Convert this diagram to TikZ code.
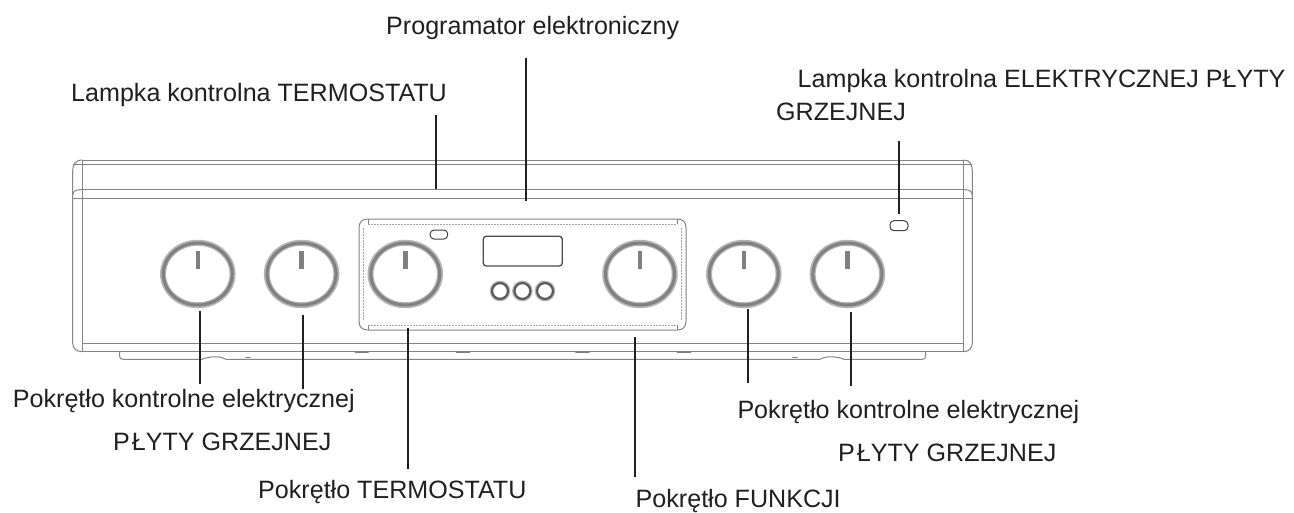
\documentclass[tikz,border=0pt]{standalone}
\usepackage{fontspec}
\setmainfont{Liberation Sans}
\usetikzlibrary{shapes.geometric}
\definecolor{ink}{HTML}{231F20}
\definecolor{edge}{HTML}{858585}
\definecolor{ringout}{HTML}{B4B4B4}
\definecolor{ringin}{HTML}{808080}
\tikzset{
  label text/.style={anchor=base west,inner sep=0pt,text=ink,font=\fontsize{25.1}{29}\selectfont},
  leader/.style={draw=ink,line width=2pt},
  body/.style={draw=edge,line width=1pt},
  fine/.style={draw=edge!75,line width=.7pt,dash pattern=on 2pt off 1pt},
  blob/.style={draw=ringin,line width=1.6pt,line cap=round},
  lamp/.style={draw=black!75,line width=1pt,rounded corners=4pt,fill=white},
  knob/.style={ellipse,minimum width=69.5pt,minimum height=62.5pt,inner sep=0pt,draw=ringout,line width=6pt},
  knobcore/.style={draw=ringin,line width=3pt},
  tick/.style={draw=ringin,line width=4.4pt},
  btn/.style={circle,minimum size=17pt,inner sep=0pt,draw=ringout,line width=3.6pt},
  btncore/.style={draw=black!65,line width=2pt}
}
\begin{document}
\begin{tikzpicture}[x=1pt,y=-1pt]
\useasboundingbox[fill=white] (0,0) rectangle (1294,512);
% body
\draw[body] (82.7,160) -- (963.3,160) (72.7,164) -- (972.3,164)
  (82.7,189.5) -- (963.3,189.5) (72.7,198) -- (972.3,198)
  (82.7,343.3) -- (963.3,343.3) (82.7,351.7) -- (963.3,351.7);
\draw[body] (82.7,160) .. controls (75,160) and (72.7,164) .. (72.7,172) -- (72.7,343) .. controls (72.7,348) and (76,351.7) .. (82.7,351.7);
\draw[body] (963.3,160) .. controls (970,160) and (972.3,164) .. (972.3,172) -- (972.3,343) .. controls (972.3,348) and (969,351.7) .. (963.3,351.7);
\draw[body] (82.7,160) -- (82.7,351.7) (963.3,160) -- (963.3,351.7);
\draw[body] (82.7,189.5) .. controls (76,189.5) and (73,191) .. (72.7,195);
\draw[body] (963.3,189.5) .. controls (969,189.5) and (972,191) .. (972.3,195);
% lower strip
\draw[body] (119.5,351.7) -- (119.5,356) .. controls (119.5,358.5) and (121,359.3) .. (123,359.3) -- (202,359.3)
  .. controls (208,356.5) and (220,355.5) .. (226,359.3) -- (820,359.3)
  .. controls (826,355.5) and (838,356.5) .. (844,359.3) -- (922,359.3)
  .. controls (924.5,359.3) and (925.5,358.5) .. (925.5,356) -- (925.5,351.7);
\draw[blob] (355.5,352.6) -- (368,352.6);
\draw[blob] (456.5,352.6) -- (469.5,352.6);
\draw[blob] (576,352.6) -- (589,352.6);
\draw[blob] (677.5,352.6) -- (690.5,352.6);
\draw[blob] (246,357.6) -- (250,357.6);
\draw[blob] (793,357.6) -- (797,357.6);
% panel
\draw[body] (368,219) -- (677,219) .. controls (683,219) and (686,222) .. (686,228) -- (686,321)
  .. controls (686,327) and (683,330) .. (677,330) -- (368,330)
  .. controls (362,330) and (359,327) .. (359,321) -- (359,228) .. controls (359,222) and (362,219) .. (368,219);
\draw[body] (368,219) -- (368,224) (677,219) -- (677,224) (368,325) -- (368,330) (677,325) -- (677,330);
\draw[fine] (368,224) -- (677,224) (368,325) -- (677,325) (363.5,228) -- (363.5,321) (681.7,228) -- (681.7,321);
% display, lamps
\draw[lamp,draw=black!70,line width=1.3pt,rounded corners=3pt] (483.3,236.3) rectangle (562.3,266);
\draw[lamp] (430,230) rectangle (447.7,239);
\draw[lamp] (890,220.7) rectangle (908,230.7);
% knobs
\foreach \n/\x in {knobA/197.8,knobB/301.6,knobC/405.3,knobD/640,knobE/743.8,knobF/847.4}{
  \node[knob] (\n) at (\x,274) {};
  \draw[knobcore] (\n.center) ellipse [x radius=34.5pt,y radius=31pt];
  \draw[tick] (\x,250.7) -- (\x,269.3);
}
% buttons
\foreach \n/\x in {btnA/500,btnB/522.4,btnC/545}{
  \node[btn] (\n) at (\x,291) {};
  \draw[btncore] (\n.center) circle (8pt);
}
% labels
\node[label text] (prog) at (386,34) {Programator elektroniczny};
\node[label text] (lampT) at (71,101) {Lampka kontrolna TERMOSTATU};
\node[label text] (lampE) at (797.5,87.7) {Lampka kontrolna ELEKTRYCZNEJ PŁYTY};
\node[label text] (lampE2) at (776,120.8) {GRZEJNEJ};
\node[label text] (potL) at (12.7,407.5) {Pokrętło kontrolne elektrycznej};
\node[label text] (potL2) at (113,450) {P\kern2pt ŁYTY GRZEJNEJ};
\node[label text] (potT) at (258,498.7) {Pokrętło TERMOSTATU};
\node[label text] (potF) at (635.5,507) {Pokrętło FUNKCJI};
\node[label text] (potR) at (737.3,418.3) {Pokrętło kontrolne elektrycznej};
\node[label text] (potR2) at (838,461) {P\kern2pt ŁYTY GRZEJNEJ};
% connectors
\coordinate (a1) at (526,58);  \coordinate (a2) at (526,201);
\coordinate (b1) at (436,115); \coordinate (b2) at (436,189);
\coordinate (c1) at (899,141); \coordinate (c2) at (899,214);
\coordinate (d1) at (200,311); \coordinate (d2) at (200,384);
\coordinate (e1) at (303,315); \coordinate (e2) at (303,389);
\coordinate (f1) at (408,328); \coordinate (f2) at (408,468.7);
\coordinate (g1) at (635,337); \coordinate (g2) at (635,477);
\coordinate (h1) at (748,309); \coordinate (h2) at (748,382.7);
\coordinate (i1) at (851,312); \coordinate (i2) at (851,385.7);
\foreach \p/\q in {a1/a2,b1/b2,c1/c2,d1/d2,e1/e2,f1/f2,g1/g2,h1/h2,i1/i2}
  \draw[leader] (\p) -- (\q);
\end{tikzpicture}
\end{document}
